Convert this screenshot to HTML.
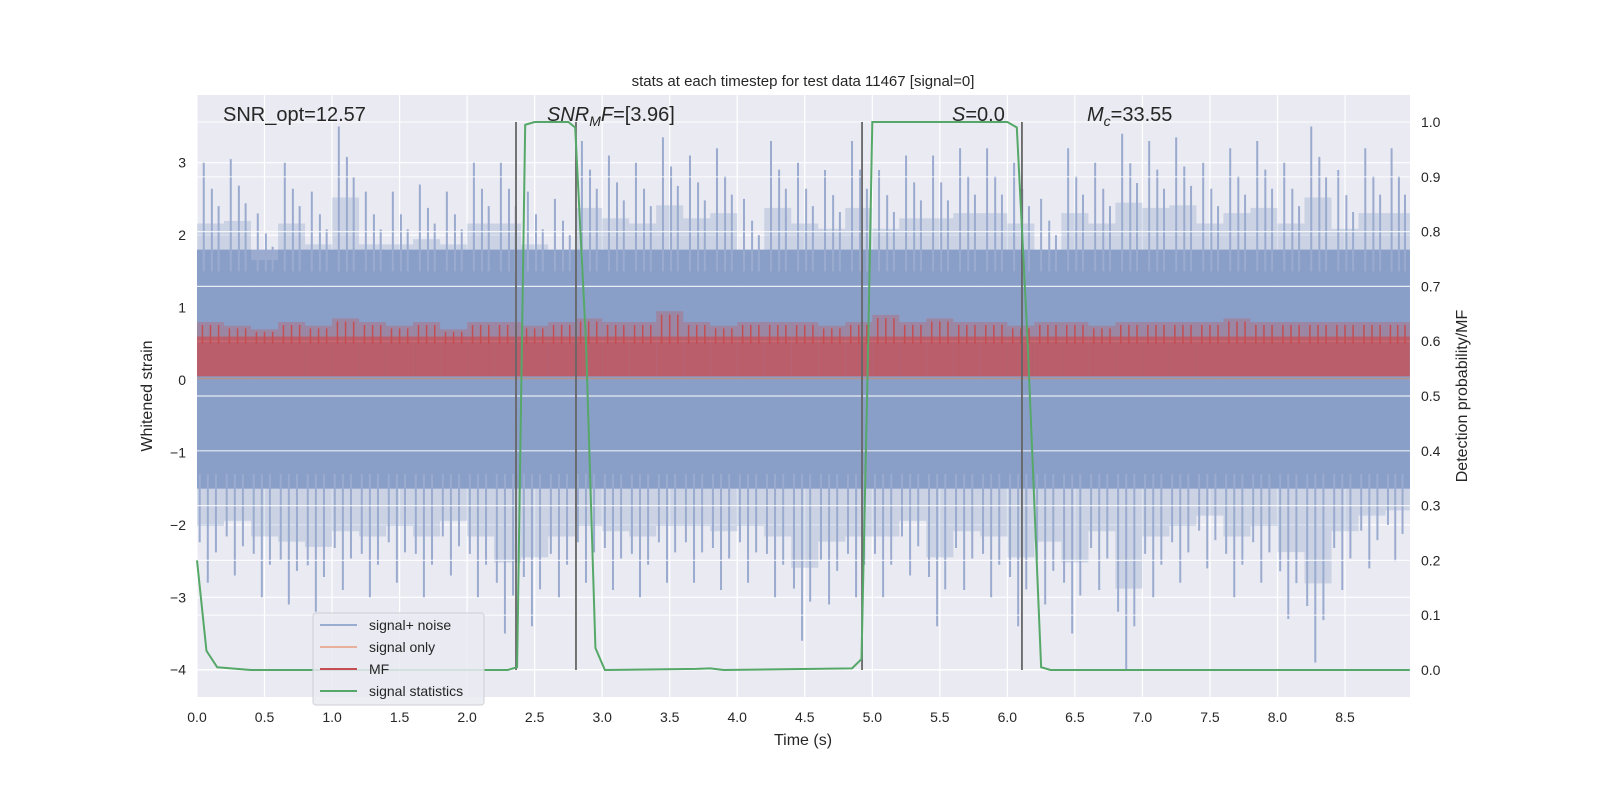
<!DOCTYPE html>
<html><head><meta charset="utf-8"><style>
body{margin:0;background:#fff;}
svg text{font-family:"Liberation Sans","DejaVu Sans",sans-serif;fill:#262626;}
</style></head><body>
<svg id="chart" width="1600" height="800" xmlns="http://www.w3.org/2000/svg">
<rect x="197" y="95" width="1213" height="602" fill="#eaeaf2"/>
<g id="grid"></g><g id="marks"></g><g id="axes"></g>
<text x="803" y="86" font-size="15" text-anchor="middle">stats at each timestep for test data 11467 [signal=0]</text>
<text x="803" y="745" font-size="16" text-anchor="middle">Time (s)</text>
<text transform="translate(152,396) rotate(-90)" font-size="16" text-anchor="middle">Whitened strain</text>
<text transform="translate(1467,396) rotate(-90)" font-size="16" text-anchor="middle">Detection probability/MF</text>
<text x="223" y="121" font-size="20">SNR_opt=12.57</text>
<text x="547" y="121" font-size="20"><tspan font-style="italic">SNR</tspan><tspan font-style="italic" font-size="14" dy="5">M</tspan><tspan font-style="italic" dy="-5">F</tspan>=[3.96]</text>
<text x="952" y="121" font-size="20"><tspan font-style="italic">S</tspan>=0.0</text>
<text x="1087" y="121" font-size="20"><tspan font-style="italic">M</tspan><tspan font-style="italic" font-size="14" dy="5">c</tspan><tspan dy="-5">=33.55</tspan></text>
<g>
<rect x="313" y="613" width="171" height="92" rx="3" fill="#eaeaf2" fill-opacity="0.85" stroke="#cfcfd6"/>
<line x1="320" y1="625" x2="357" y2="625" stroke="#9aacd0" stroke-width="2"/><text x="369" y="630" font-size="14">signal+ noise</text>
<line x1="320" y1="647" x2="357" y2="647" stroke="#e8b09a" stroke-width="2"/><text x="369" y="652" font-size="14">signal only</text>
<line x1="320" y1="669" x2="357" y2="669" stroke="#c44e52" stroke-width="2"/><text x="369" y="674" font-size="14">MF</text>
<line x1="320" y1="691" x2="357" y2="691" stroke="#55a868" stroke-width="2"/><text x="369" y="696" font-size="14">signal statistics</text>
</g>
</svg>
<script>
const noiseHigh=[3.0,3.05,2.3,3.0,2.6,3.5,2.6,2.6,2.7,2.6,3.0,3.0,2.6,2.5,3.3,3.1,3.0,3.35,3.1,3.2,2.5,3.3,3.0,2.9,3.3,2.9,3.1,3.1,3.2,3.2,3.0,2.5,3.2,3.0,3.4,3.3,3.35,3.0,3.2,3.3,3.0,3.5,2.9,3.2,3.2];
const noiseLow=[-2.8,-2.7,-3.0,-3.1,-3.2,-2.9,-3.0,-2.8,-3.0,-2.7,-3.0,-3.5,-3.4,-3.0,-2.8,-2.9,-3.0,-2.8,-2.8,-2.9,-2.8,-3.0,-3.6,-3.1,-3.0,-3.0,-2.7,-3.4,-2.9,-3.0,-3.4,-3.1,-3.5,-2.9,-4.0,-3.0,-2.8,-2.6,-3.0,-2.8,-3.3,-3.9,-2.9,-2.6,-2.5];
const mfHigh=[0.8,0.75,0.7,0.8,0.75,0.85,0.8,0.75,0.8,0.7,0.8,0.8,0.75,0.8,0.85,0.8,0.8,0.95,0.8,0.75,0.8,0.8,0.8,0.75,0.8,0.9,0.8,0.85,0.8,0.8,0.75,0.8,0.8,0.75,0.8,0.8,0.8,0.8,0.85,0.8,0.8,0.8,0.8,0.8,0.8];
const statT=[0,0.07,0.15,0.4,2.3,2.37,2.43,2.5,2.75,2.8,2.88,2.95,3.02,3.7,3.8,3.9,4.85,4.92,4.97,5.0,6.0,6.07,6.15,6.25,6.32,9.0];
const statV=[0.2,0.035,0.005,0,0,0.005,0.995,1,1,0.99,0.6,0.04,0,0.002,0.003,0,0.003,0.02,0.6,1,1,0.99,0.6,0.005,0,0];
const vlines=[2.362,2.806,4.924,6.108];
const xTicks=[0,0.5,1,1.5,2,2.5,3,3.5,4,4.5,5,5.5,6,6.5,7,7.5,8,8.5];
const yTicks=[-4,-3,-2,-1,0,1,2,3];
const rTicks=[0,0.1,0.2,0.3,0.4,0.5,0.6,0.7,0.8,0.9,1.0];
const X=t=>197+t*135.06, Y=v=>380-v*72.43, R=p=>670-p*548;
const NS='http://www.w3.org/2000/svg';
function mk(par,tag,a){const e=document.createElementNS(NS,tag);for(const k in a)e.setAttribute(k,a[k]);par.appendChild(e);return e;}
const grid=document.getElementById('grid'),marks=document.getElementById('marks'),axes=document.getElementById('axes');
xTicks.forEach(t=>{const l=mk(grid,'line',{x1:X(t),x2:X(t),y1:95,y2:697,stroke:'#fff','stroke-width':1.2});


const s=mk(axes,'text',{x:X(t),y:722,'font-size':14,'text-anchor':'middle'});s.textContent=t.toFixed(1);

});
yTicks.forEach(v=>{const l=mk(grid,'line',{x1:197,x2:1410,y1:Y(v),y2:Y(v),stroke:'#fff','stroke-width':1.2});


const s=mk(axes,'text',{x:186,y:Y(v)+5,'font-size':14,'text-anchor':'end'});s.textContent=v<0?'\u2212'+(-v):v;

});
rTicks.forEach(p=>{const s=mk(axes,'text',{x:1421,y:R(p)+5,'font-size':14});s.textContent=p.toFixed(1);

});
// noise core band
const core=mk(marks,'rect',{x:197,y:Y(1.8),width:1213,height:Y(-1.5)-Y(1.8),fill:'#9aabcf'});


noiseHigh.forEach((h,i)=>{const x0=X(i*0.2),x1=X(Math.min(i*0.2+0.2,8.98)),lo=noiseLow[i];
const m=mk(marks,'rect',{x:x0,y:Y(h*0.72),width:x1-x0,height:Y(lo*0.72)-Y(h*0.72),fill:'#4c72b0','fill-opacity':0.2});


[[0.25,h],[0.55,h*0.88],[0.8,h*0.8]].forEach(([f,v])=>{const l=mk(marks,'line',{x1:x0+f*(x1-x0),x2:x0+f*(x1-x0),y1:Y(1.5),y2:Y(v),stroke:'#9aabcf','stroke-width':2});

});
[[0.4,lo],[0.7,lo*0.85],[0.1,lo*0.8]].forEach(([f,v])=>{const l=mk(marks,'line',{x1:x0+f*(x1-x0),x2:x0+f*(x1-x0),y1:Y(-1.3),y2:Y(v),stroke:'#9aabcf','stroke-width':2});

});});
rTicks.forEach(p=>{const l=mk(marks,'line',{x1:197,x2:1410,y1:R(p),y2:R(p),stroke:'#fff','stroke-width':1.2,'stroke-opacity':0.8});

});
const so=mk(marks,'line',{x1:197,x2:1410,y1:Y(0.02),y2:Y(0.02),stroke:'#dd8452','stroke-opacity':0.5,'stroke-width':1.5});


mfHigh.forEach((h,i)=>{const x0=X(i*0.2),x1=X(Math.min(i*0.2+0.2,8.98));
const r=mk(marks,'rect',{x:x0,y:Y(h),width:x1-x0,height:Y(0.6)-Y(h),fill:'#c44e52','fill-opacity':0.3});


[0.2,0.5,0.8].forEach(f=>{const l=mk(marks,'line',{x1:x0+f*(x1-x0),x2:x0+f*(x1-x0),y1:Y(0.5),y2:Y(h*0.95),stroke:'#c44e52','stroke-width':1.5});

});
const c=mk(marks,'rect',{x:x0,y:Y(0.6),width:x1-x0,height:Y(0.05)-Y(0.6),fill:'#c44e52','fill-opacity':0.8});

});
vlines.forEach(t=>{const l=mk(marks,'line',{x1:X(t),x2:X(t),y1:R(1.0),y2:R(0),stroke:'#666','stroke-width':1.8});

});
const pts=statT.map((t,i)=>X(Math.min(t,8.98))+','+R(statV[i])).join(' ');
const g=mk(marks,'polyline',{points:pts,fill:'none',stroke:'#55a868','stroke-width':2});


</script>
</body></html>
